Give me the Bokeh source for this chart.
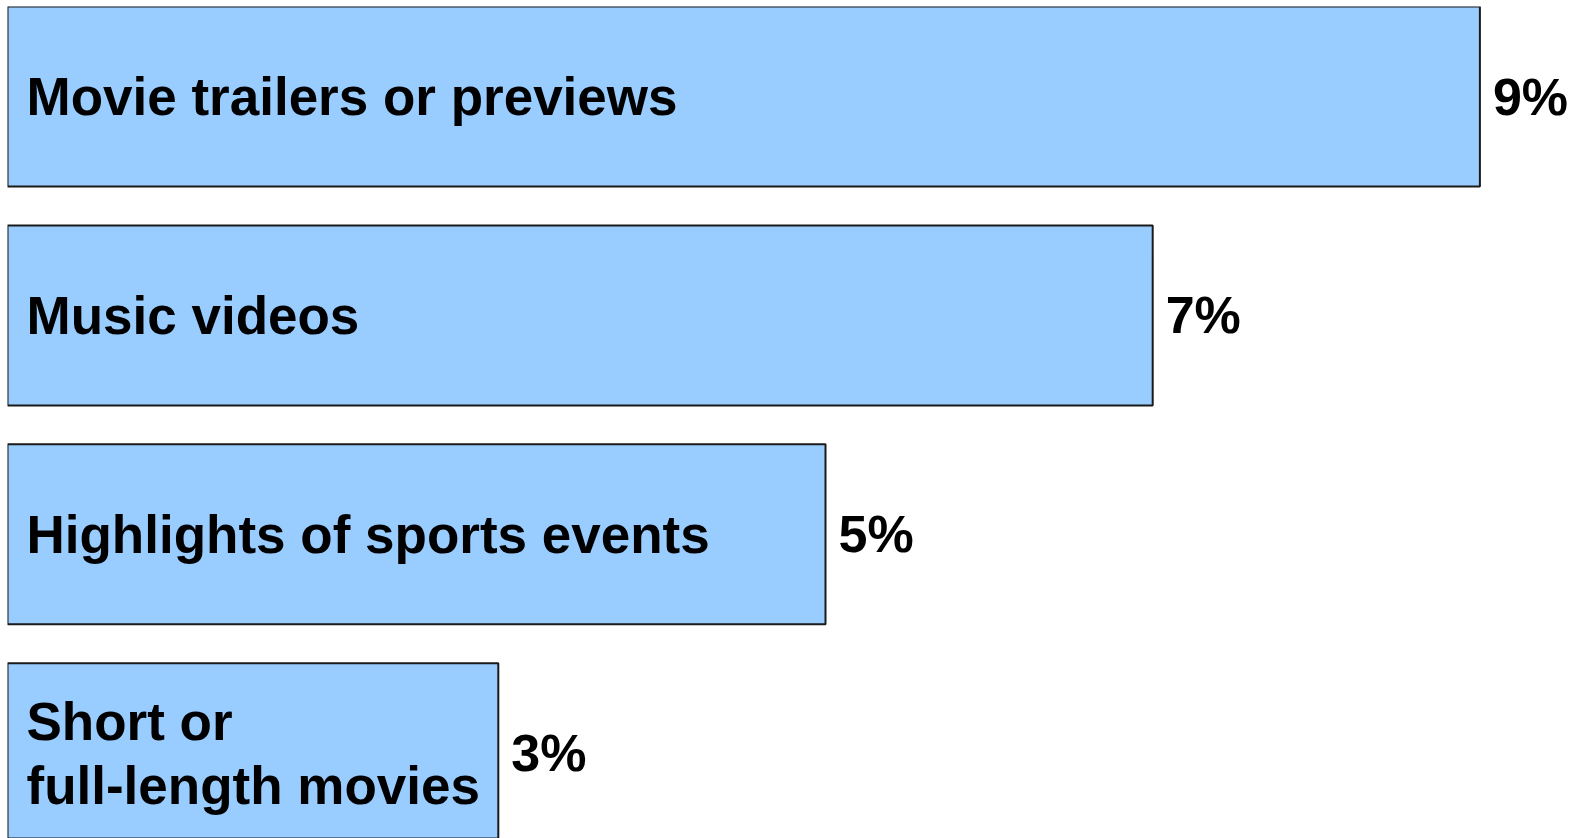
from bokeh.plotting import figure
from bokeh.models import ColumnDataSource, Range1d
from bokeh.core.properties import value
from bokeh.embed import file_html
from bokeh.resources import INLINE

categories = ["Movie trailers or previews", "Music videos", "Highlights of sports events", "Short or\nfull-length movies"]
values = [9, 7, 5, 3]
value_labels = ["9%", "7%", "5%", "3%"]

positions = list(range(len(categories)))
src = ColumnDataSource(dict(
    y=positions,
    v=values,
    cat=categories,
    lab=value_labels,
    zero=[0] * len(values),
))

FW, FH = 1563, 832
BL, BT = 7, 6
px_per_unit = 163.6
pitch = 218.9
top_offset = 90.0

p = figure(width=FW + BL, height=FH + BT, output_backend="svg", toolbar_location=None,
           x_range=Range1d(0, FW / px_per_unit),
           y_range=Range1d(-top_offset / pitch + FH / pitch, -top_offset / pitch),
           min_border=0, min_border_left=BL, min_border_right=0,
           min_border_top=BT, min_border_bottom=0)
p.axis.visible = False
p.grid.visible = False
p.outline_line_color = None
p.background_fill_color = "white"
p.border_fill_color = "white"

p.hbar(y="y", left="zero", right="v", height=180 / pitch, source=src,
       fill_color="#99CCFF", line_color="#1a1a1a", line_width=2)

p.text(x="zero", y="y", text="cat", source=src, x_offset=19,
       text_align="left", text_baseline="middle",
       text_font=value("Liberation Sans"), text_font_style="bold",
       text_font_size="53px", text_color="black", text_line_height=1.09)

p.text(x="v", y="y", text="lab", source=src, x_offset=13,
       text_align="left", text_baseline="middle",
       text_font=value("Liberation Sans"), text_font_style="bold",
       text_font_size="52px", text_color="black")

open("out.html", "w").write(file_html(p, INLINE))
